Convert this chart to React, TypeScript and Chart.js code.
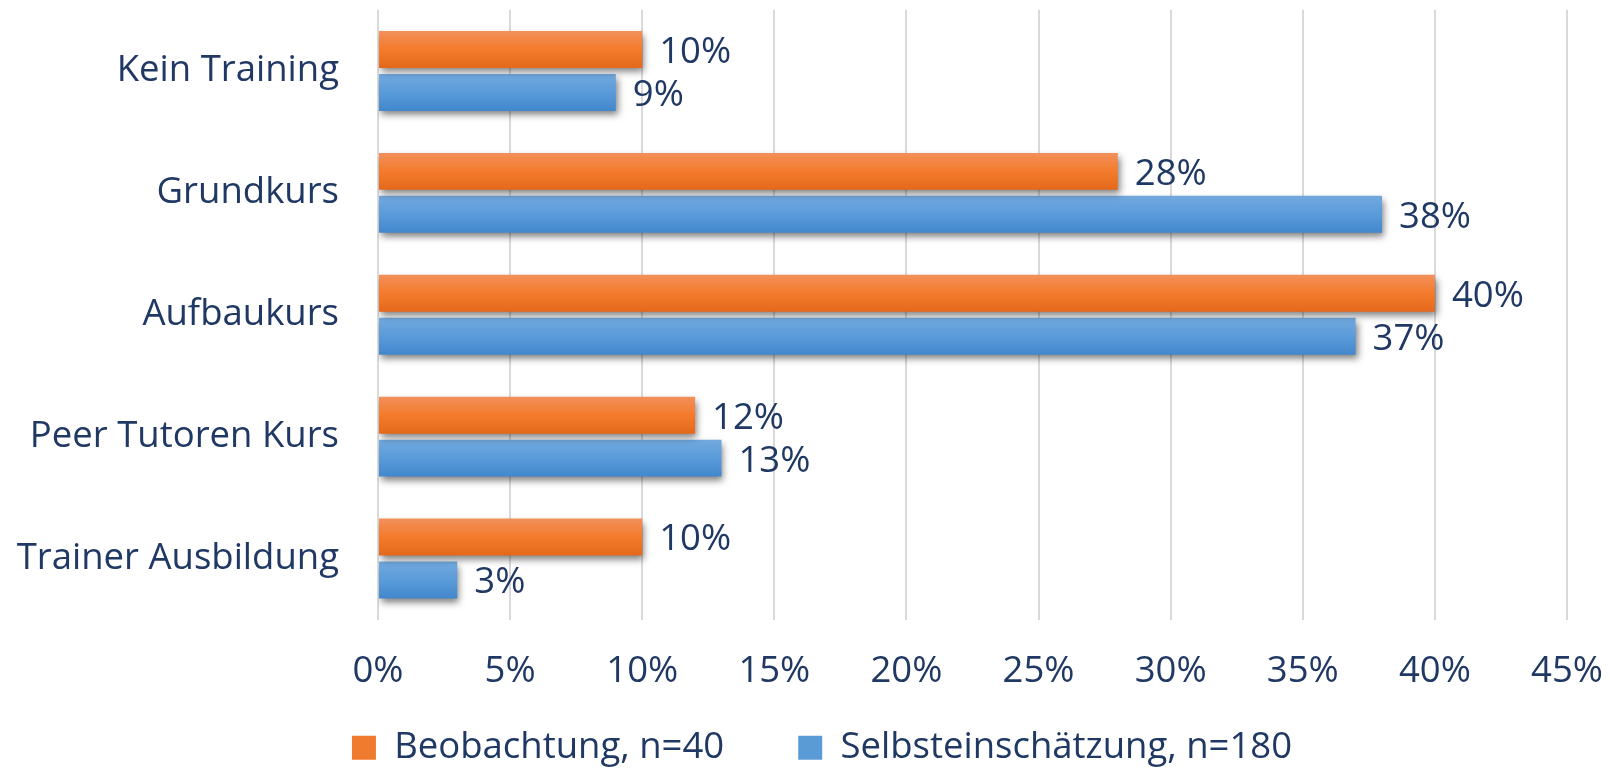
import React, { useEffect, useRef } from "react";
import { Chart, registerables } from "chart.js";

Chart.register(...registerables);

const categories = ["Kein Training", "Grundkurs", "Aufbaukurs", "Peer Tutoren Kurs", "Trainer Ausbildung"];
const beobachtung = [10, 28, 40, 12, 10];
const selbsteinschaetzung = [9, 38, 37, 13, 3];
const seriesNames = ["Beobachtung, n=40", "Selbsteinschätzung, n=180"];
const xMax = 45;
const xStep = 5;

const FONT = "'Open Sans', 'DejaVu Sans', sans-serif";
const FONT_SIZE = 36.5;
const TEXT = "#203864";
const solidColors = ["#F07B2E", "#5B9BD5"];
const gradientStops: [number, string][][] = [
  [[0, "#F2905A"], [0.5, "#F47B2C"], [1, "#E3681B"]],
  [[0, "#72A9DE"], [0.5, "#5A9BDA"], [1, "#4287CC"]],
];

const barStylePlugin = {
  id: "barStyle",
  afterLayout(chart: any) {
    // let axis labels draw outside their (narrow) layout boxes
    chart.scales.y.left = 0;
    chart.scales.x.bottom = 705;
  },
  beforeDatasetsDraw(chart: any) {
    const ctx = chart.ctx;
    ctx.save();
    ctx.shadowColor = "rgba(0,0,0,0.5)";
    ctx.shadowBlur = 7;
    ctx.shadowOffsetX = 2;
    ctx.shadowOffsetY = 4;
    chart.data.datasets.forEach((_ds: any, di: number) => {
      const meta = chart.getDatasetMeta(di);
      meta.data.forEach((el: any) => {
        const { y, height } = el.getProps(["y", "height"], true);
        const g = ctx.createLinearGradient(0, y - height / 2, 0, y + height / 2);
        gradientStops[di].forEach(([o, c]) => g.addColorStop(o, c));
        el.options.backgroundColor = g;
      });
    });
  },
  afterDatasetsDraw(chart: any) {
    chart.ctx.restore();
  },
};

const valueLabelPlugin = {
  id: "valueLabels",
  afterDatasetsDraw(chart: any) {
    const ctx = chart.ctx;
    ctx.save();
    ctx.font = `${FONT_SIZE}px ${FONT}`;
    ctx.fillStyle = TEXT;
    ctx.textAlign = "left";
    ctx.textBaseline = "middle";
    chart.data.datasets.forEach((ds: any, di: number) => {
      const meta = chart.getDatasetMeta(di);
      meta.data.forEach((el: any, i: number) => {
        const { x, y } = el.getProps(["x", "y"], true);
        ctx.fillText(`${ds.data[i]}%`, x + 17, y + 3);
      });
    });
    ctx.restore();
  },
};

const zeroPadding = (scale: any) => {
  scale.paddingTop = 0;
  scale.paddingBottom = 0;
  scale.paddingLeft = 0;
  scale.paddingRight = 0;
};

export default function App() {
  const canvasRef = useRef<HTMLCanvasElement | null>(null);

  useEffect(() => {
    const canvas = canvasRef.current;
    if (!canvas) return;
    const chart = new Chart(canvas, {
      type: "bar",
      data: {
        labels: categories,
        datasets: [
          {
            label: seriesNames[0],
            data: beobachtung,
            backgroundColor: () => solidColors[0],
            borderWidth: 0,
            categoryPercentage: 0.705,
            barPercentage: 0.86,
          },
          {
            label: seriesNames[1],
            data: selbsteinschaetzung,
            backgroundColor: () => solidColors[1],
            borderWidth: 0,
            categoryPercentage: 0.705,
            barPercentage: 0.86,
          },
        ],
      },
      options: {
        indexAxis: "y",
        responsive: false,
        animation: false,
        maintainAspectRatio: false,
        layout: { padding: { top: 10, right: 43, bottom: -6, left: 77 } },
        plugins: {
          tooltip: { enabled: false },
          legend: {
            position: "bottom",
            labels: {
              boxWidth: 24,
              boxHeight: 24,
              padding: 74,
              color: TEXT,
              font: { family: FONT, size: FONT_SIZE },
            },
          },
        },
        scales: {
          x: {
            min: 0,
            max: xMax,
            grid: { color: "#D9D9D9", lineWidth: 2, drawTicks: false },
            border: { display: false },
            ticks: {
              stepSize: xStep,
              padding: 30,
              color: TEXT,
              font: { family: FONT, size: FONT_SIZE },
              callback: (v: any) => `${v}%`,
            },
            afterFit: (scale: any) => {
              scale.height = 36;
              zeroPadding(scale);
            },
          },
          y: {
            grid: { display: false, drawTicks: false },
            border: { display: false },
            ticks: {
              padding: 39,
              color: TEXT,
              font: { family: FONT, size: FONT_SIZE },
            },
            afterFit: (scale: any) => {
              scale.width = 301;
              zeroPadding(scale);
            },
          },
        },
      },
      plugins: [barStylePlugin, valueLabelPlugin],
    } as any);
    return () => chart.destroy();
  }, []);

  return (
    <div style={{ position: "absolute", left: 0, top: 0, width: 1610, height: 770, background: "#fff" }}>
      <canvas ref={canvasRef} width={1610} height={770} style={{ display: "block", width: 1610, height: 770 }} />
    </div>
  );
}
